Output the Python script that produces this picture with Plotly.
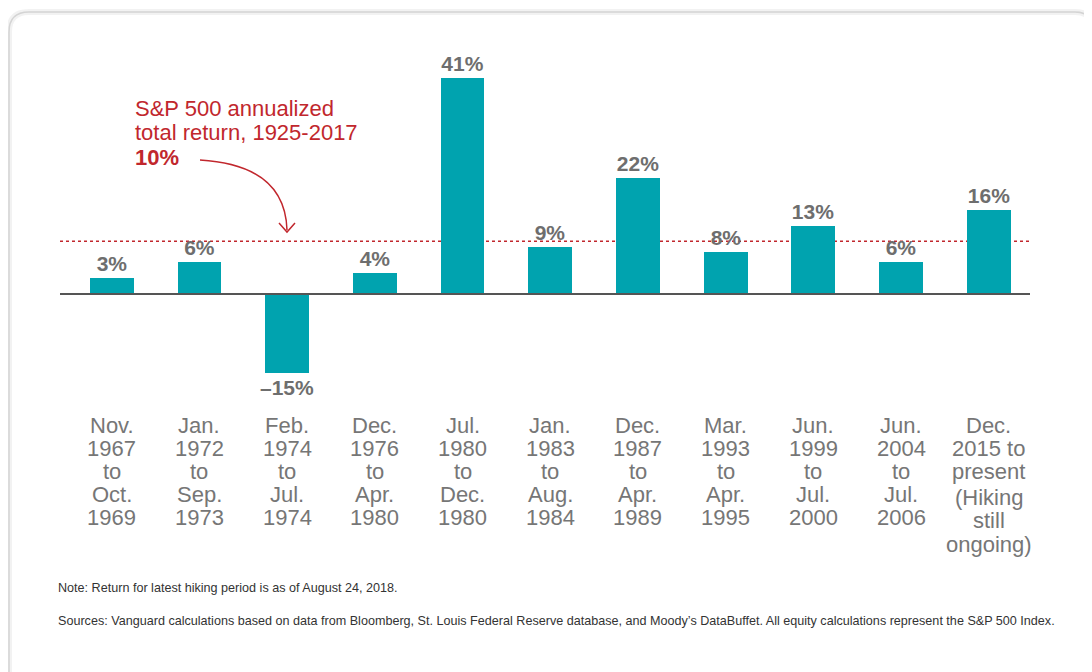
import plotly.graph_objects as go

# ---- data ----
periods = [
    "Nov.\n1967\nto\nOct.\n1969",
    "Jan.\n1972\nto\nSep.\n1973",
    "Feb.\n1974\nto\nJul.\n1974",
    "Dec.\n1976\nto\nApr.\n1980",
    "Jul.\n1980\nto\nDec.\n1980",
    "Jan.\n1983\nto\nAug.\n1984",
    "Dec.\n1987\nto\nApr.\n1989",
    "Mar.\n1993\nto\nApr.\n1995",
    "Jun.\n1999\nto\nJul.\n2000",
    "Jun.\n2004\nto\nJul.\n2006",
    "Dec.\n2015 to\npresent\n\n(Hiking\nstill\nongoing)",
]
returns = [3, 6, -15, 4, 41, 9, 22, 8, 13, 6, 16]
value_labels = ["3%", "6%", "\u201315%", "4%", "41%", "9%", "22%", "8%", "13%", "6%", "16%"]
benchmark = 10
benchmark_text = ["S&P 500 annualized", "total return, 1925-2017", "<b>10%</b>"]
note_text = "Note: Return for latest hiking period is as of August 24, 2018."
source_text = ("Sources: Vanguard calculations based on data from Bloomberg, St. Louis Federal Reserve "
               "database, and Moody\u2019s DataBuffet. All equity calculations represent the S&P 500 Index.")

# ---- style / layout ----
W, H = 1092, 672
OFF = 8  # page body margin compensation
ML, MR, MT, MB = 60 - OFF, 62 + OFF, 50 - OFF, 272 + OFF
PW, PH = W - ML - MR, H - MT - MB
TEAL = "#00A3AF"
RED = "#C1272D"
GRAY = "#767676"
FONT = "Liberation Sans, Arial, sans-serif"

def px(x):
    return (x - OFF - ML) / PW

def py(y):
    return (H - MB - (y - OFF)) / PH

xs = list(range(len(returns)))
xr = [-0.59, 10.47]
yr = [-20.1, 46.3]

fig = go.Figure()
fig.add_trace(go.Bar(
    x=xs, y=returns, width=0.5,
    marker=dict(color=TEAL, line=dict(width=0)),
    text=value_labels, textposition="outside", constraintext="none",
    textfont=dict(family=FONT, size=21, color="#6E6E6E", weight="bold"),
    cliponaxis=False, hoverinfo="skip",
))

shapes = []
# card background (rounded, with soft shadow)
card = (f"M {px(9)},{py(700)} L {px(9)},{py(32)} Q {px(9)},{py(12)} {px(29)},{py(12)} "
        f"L {px(1075)},{py(12)} Q {px(1093)},{py(12)} {px(1093)},{py(30)} L {px(1093)},{py(700)}")
shapes.append(dict(type="path", path=card, xref="paper", yref="paper",
                   line=dict(color="rgba(0,0,0,0.05)", width=6), layer="below"))
shapes.append(dict(type="path", path=card, xref="paper", yref="paper",
                   line=dict(color="#D4D4D4", width=1.5), layer="below"))
# benchmark dotted line
shapes.append(dict(type="line", xref="x", yref="y", x0=xr[0], x1=xr[1], y0=benchmark, y1=benchmark,
                   line=dict(color=RED, width=1.5, dash="dot"), layer="below"))
# zero line
shapes.append(dict(type="line", xref="x", yref="y", x0=xr[0], x1=xr[1], y0=0, y1=0,
                   line=dict(color="#555555", width=2), layer="above"))
# curved arrow
curve = f"M {px(200)},{py(160)} Q {px(285)},{py(165)} {px(287)},{py(230)}"
shapes.append(dict(type="path", path=curve, xref="paper", yref="paper",
                   line=dict(color=RED, width=1.5)))
head = f"M {px(279)},{py(223)} L {px(287)},{py(232)} L {px(295)},{py(223)}"
shapes.append(dict(type="path", path=head, xref="paper", yref="paper",
                   line=dict(color=RED, width=1.5)))

annotations = []
# benchmark text
for i, t in enumerate(benchmark_text):
    annotations.append(dict(text=t, xref="paper", yref="paper", x=px(133), y=py(108 + 24.5 * i),
                            xanchor="left", yanchor="middle", showarrow=False,
                            font=dict(family=FONT, size=22, color=RED)))
# category labels, one annotation per line
for i, lab in enumerate(periods):
    yy = 425.0
    for line in lab.split("\n"):
        if line == "":
            yy += 3
            continue
        annotations.append(dict(text=line, xref="x", yref="paper", x=xs[i], y=py(yy),
                                xanchor="center", yanchor="middle", showarrow=False,
                                font=dict(family=FONT, size=22, color=GRAY)))
        yy += 23.2
# footnotes
annotations.append(dict(text=note_text, xref="paper", yref="paper", x=px(56), y=py(588),
                        xanchor="left", yanchor="middle", showarrow=False,
                        font=dict(family=FONT, size=12.6, color="#333333")))
annotations.append(dict(text=source_text, xref="paper", yref="paper", x=px(56), y=py(621),
                        xanchor="left", yanchor="middle", showarrow=False,
                        font=dict(family=FONT, size=12.6, color="#333333")))

fig.update_layout(
    width=W, height=H,
    margin=dict(l=ML, r=MR, t=MT, b=MB, autoexpand=False),
    paper_bgcolor="white", plot_bgcolor="rgba(0,0,0,0)",
    showlegend=False,
    xaxis=dict(range=xr, visible=False, fixedrange=True),
    yaxis=dict(range=yr, visible=False, fixedrange=True),
    shapes=shapes, annotations=annotations,
    bargap=0,
)

fig.write_html("out.html")
